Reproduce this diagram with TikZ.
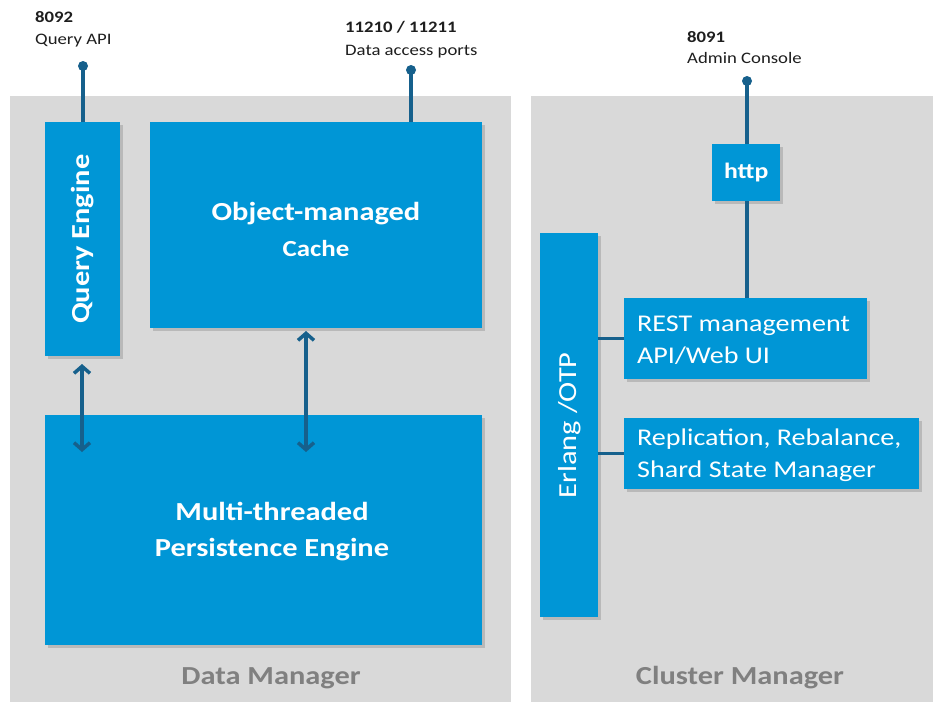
\documentclass[tikz,border=0pt]{standalone}
\usepackage{fontspec}
\setmainfont[FakeStretch=1.17]{Carlito}
\usetikzlibrary{shadows,arrows.meta}

\definecolor{cbblue}{RGB}{0,150,214}
\definecolor{cbline}{RGB}{22,96,140}
\definecolor{cbpanel}{RGB}{217,217,217}
\definecolor{cbgrey}{RGB}{128,128,128}
\definecolor{cbtext}{RGB}{30,30,30}

\newcommand{\fsz}[2]{\fontsize{#1}{#2}\selectfont}

\tikzset{
  panel/.style={fill=cbpanel, draw=none},
  block/.style={fill=cbblue, draw=none, inner sep=0, anchor=north west,
    drop shadow={shadow xshift=2.5pt, shadow yshift=-2.5pt, opacity=0.35}},
  btext/.style={text=white, inner sep=0, font=\bfseries\fsz{26}{35}, align=center},
  rtext/.style={text=white, inner sep=0, font=\fsz{24}{31.5}, align=left, anchor=west},
  ptitle/.style={text=cbgrey, inner sep=0, font=\bfseries\fsz{26}{30}},
  portnum/.style={text=cbtext, inner sep=0, anchor=base west, font=\bfseries\fsz{16}{20}},
  portname/.style={text=cbtext, inner sep=0, anchor=base west, font=\fsz{16}{20}},
  port/.style={circle, fill=cbline, draw=none, minimum size=10pt, inner sep=0},
  link/.style={draw=cbline, line width=3.5pt},
  dbl/.style={draw=cbline, line width=3.5pt,
    {Straight Barb[length=7pt,width=16pt]}-{Straight Barb[length=7pt,width=16pt]}},
}

\begin{document}
\begin{tikzpicture}[x=1pt, y=-1pt]
  \useasboundingbox (0,0) rectangle (933,704);
  \fill[white] (0,0) rectangle (933,704);

  % grey panels
  \fill[panel] (10,96) rectangle (511,702);
  \fill[panel] (531,96) rectangle (933,702);
  \node[ptitle] (dmtitle) at (271,678) {Data Manager};
  \node[ptitle] (cmtitle) at (740,678) {Cluster Manager};

  % Data Manager blocks
  \node[block, minimum width=75pt, minimum height=234pt] (qe) at (45,122) {};
  \node[btext, rotate=90] (qetext) at (qe.center) {Query Engine};

  \node[block, minimum width=332pt, minimum height=206pt] (omc) at (150,122) {};
  \node[btext] (omctext1) at (316,214) {Object-managed};
  \node[btext, font=\bfseries\fsz{23}{30}] (omctext2) at (316,249) {Cache};

  \node[block, minimum width=437pt, minimum height=230pt] (pe) at (45,415) {};
  \node[btext, font=\bfseries\fsz{26}{36}] (petext) at (272,532) {Multi-threaded\\Persistence Engine};

  % Cluster Manager blocks
  \node[block, minimum width=68pt, minimum height=57pt] (http) at (712,144) {};
  \node[btext, font=\bfseries\fsz{22}{26}] (httptext) at (http.center) {http};

  \node[block, minimum width=58pt, minimum height=384pt] (erl) at (540,233) {};
  \node[btext, font=\fsz{26}{30}, rotate=90] (erltext) at (erl.center) {Erlang /OTP};

  \node[block, minimum width=243pt, minimum height=81pt] (rest) at (624,298) {};
  \node[rtext] (resttext) at (637,340) {REST management\\API/Web UI};

  \node[block, minimum width=295pt, minimum height=71pt] (repl) at (624,418) {};
  \node[rtext] (repltext) at (637,455) {Replication, Rebalance,\\Shard State Manager};

  % external ports
  \node[portnum] (qnum) at (35,22) {8092};
  \node[portname] (qname) at (35,44) {Query API};
  \node[port] (qport) at (83,66) {};

  \node[portnum] (dnum) at (345,32) {11210 / 11211};
  \node[portname] (dname) at (345,55) {Data access ports};
  \node[port] (dport) at (411,70) {};

  \node[portnum] (anum) at (687,42) {8091};
  \node[portname] (aname) at (687,63) {Admin Console};
  \node[port] (aport) at (747,81) {};

  % port connectors
  \draw[link] (qport.center) -- (qport.center |- qe.north);
  \draw[link] (dport.center) -- (dport.center |- omc.north);
  \draw[link] (aport.center) -- (aport.center |- http.north);
  \draw[link] (http.south -| aport.center) -- (rest.north -| aport.center);

  % Erlang/OTP links
  \draw[link] (rest.west -| erl.east) -- (rest.west);
  \draw[link] (repl.west -| erl.east) -- (repl.west);

  % engine <-> persistence arrows
  \coordinate (qa1) at (82,364);
  \coordinate (qa2) at (82,452);
  \coordinate (ca1) at (306,331);
  \coordinate (ca2) at (306,452);
  \draw[dbl] (qa1) -- (qa2);
  \draw[dbl] (ca1) -- (ca2);
\end{tikzpicture}
\end{document}
